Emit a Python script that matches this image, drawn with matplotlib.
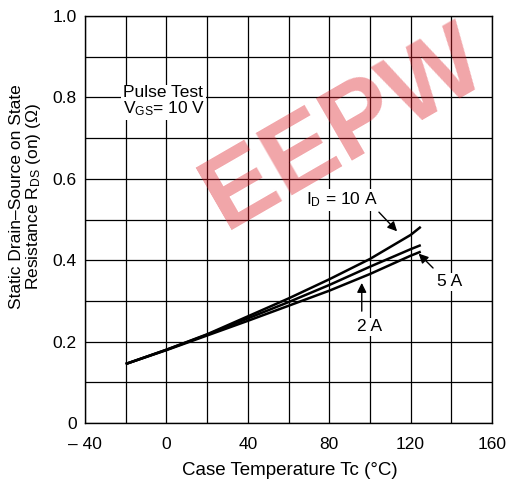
import matplotlib
matplotlib.use("Agg")
import matplotlib.pyplot as plt

plt.rcParams['font.family'] = ['Liberation Sans', 'DejaVu Sans']
plt.rcParams['mathtext.fontset'] = 'custom'
plt.rcParams['mathtext.rm'] = 'Liberation Sans'
plt.rcParams['mathtext.it'] = 'Liberation Sans'

# Data
temp = [-20, 0, 20, 40, 60, 80, 100, 120, 125]
rds_10a = [0.145, 0.180, 0.218, 0.262, 0.306, 0.353, 0.403, 0.462, 0.482]
rds_5a = [0.145, 0.180, 0.217, 0.257, 0.297, 0.339, 0.384, 0.427, 0.437]
rds_2a = [0.145, 0.179, 0.215, 0.251, 0.288, 0.325, 0.366, 0.411, 0.421]

x_ticks = [-40, 0, 40, 80, 120, 160]
x_tick_labels = ["\u2013 40", "0", "40", "80", "120", "160"]
y_ticks = [0, 0.2, 0.4, 0.6, 0.8, 1.0]
y_tick_labels = ["0", "0.2", "0.4", "0.6", "0.8", "1.0"]

fig = plt.figure(figsize=(5.08, 4.90), dpi=100)
ax = fig.add_axes([85/508, 67/490, 407/508, 407/490])

ax.set_xlim(-40, 160)
ax.set_ylim(0, 1.0)
ax.set_xticks(range(-40, 161, 20), minor=True)
ax.set_yticks([i / 10 for i in range(11)], minor=True)
ax.set_xticks(x_ticks)
ax.set_xticklabels(x_tick_labels)
ax.set_yticks(y_ticks)
ax.set_yticklabels(y_tick_labels)
ax.tick_params(which='both', length=0, labelsize=12.5)
ax.tick_params(axis='x', pad=10)
ax.tick_params(axis='y', pad=6)
ax.grid(True, which='both', color='black', linewidth=0.9)
for s in ax.spines.values():
    s.set_linewidth(1.0)

for y in (rds_10a, rds_5a, rds_2a):
    ax.plot(temp, y, color='black', linewidth=1.8, solid_capstyle='butt')

box = dict(facecolor='white', edgecolor='none', pad=1)
ax.text(-21.5, 0.79, "Pulse Test\nV$_{\\rm GS}$= 10 V", fontsize=12.5,
        ha='left', va='center', linespacing=1.0, bbox=box)

ax.text(68.6, 0.548, "I$_{\\rm D}$ = 10 A", fontsize=12.5, ha='left', va='center', bbox=box)
ax.annotate("", xy=(114.3, 0.466), xytext=(103.5, 0.523),
            arrowprops=dict(arrowstyle='-|>', color='black', lw=1, mutation_scale=14))

ax.text(139.4, 0.347, "5 A", fontsize=12.5, ha='center', va='center', bbox=box)
ax.annotate("", xy=(123, 0.421), xytext=(132, 0.376),
            arrowprops=dict(arrowstyle='-|>', color='black', lw=1, mutation_scale=14))

ax.text(100, 0.236, "2 A", fontsize=12.5, ha='center', va='center', bbox=box)
ax.annotate("", xy=(96, 0.351), xytext=(96, 0.268),
            arrowprops=dict(arrowstyle='-|>', color='black', lw=1, mutation_scale=14))

fig.text(290/508, 1 - 470/490, "Case Temperature Tc (\u00b0C)", fontsize=13.5,
         ha='center', va='center')
fig.text(26/508, 1 - 197/490,
         "Static Drain\u2013Source on State\nResistance R$_{\\rm DS}$ (on) (\u03a9)",
         fontsize=12.5, rotation=90, ha='center', va='center',
         multialignment='center', linespacing=1.0)

# watermark
fig.text(345/508, 1 - 130/490, "EEPW", fontsize=75, fontweight='bold',
         color='#dc1e28', alpha=0.4, rotation=30, ha='center', va='center')

fig.savefig("out.png", dpi=100)
